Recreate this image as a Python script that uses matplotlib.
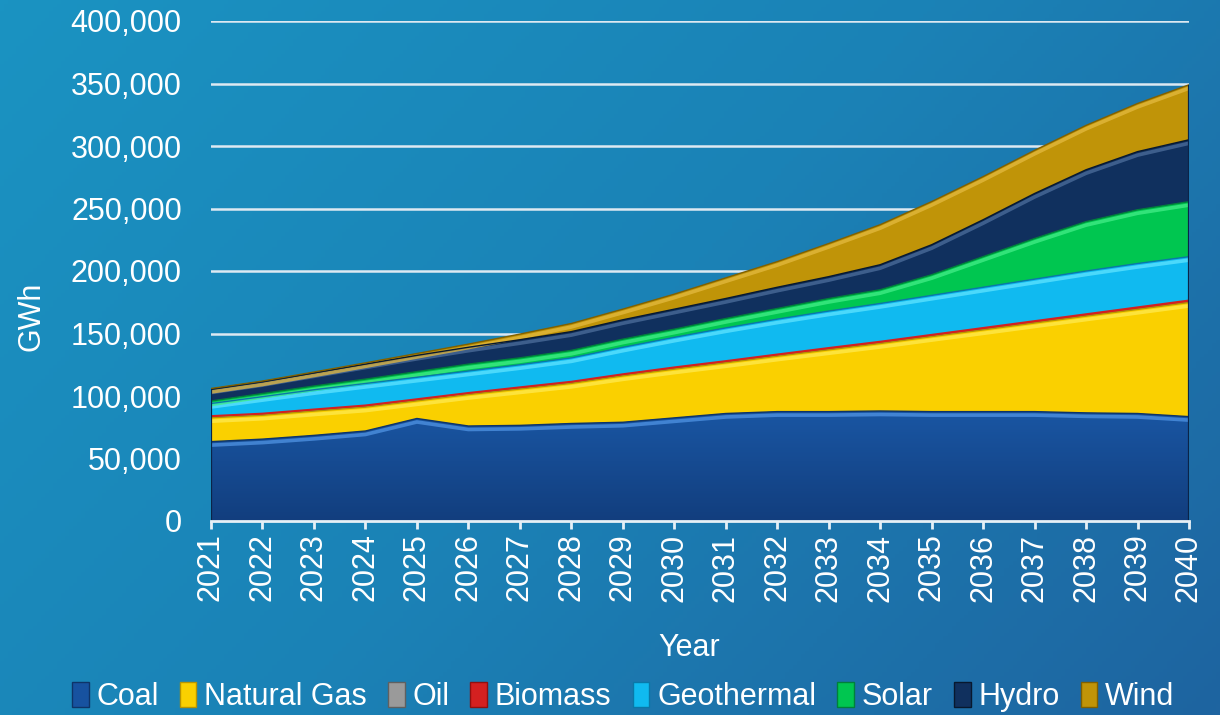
import numpy as np
import matplotlib
matplotlib.use('Agg')
import matplotlib.pyplot as plt
from matplotlib.patches import Patch
from matplotlib.colors import LinearSegmentedColormap
import matplotlib.transforms as mtransforms
from matplotlib.ticker import FuncFormatter, MultipleLocator

plt.rcParams['font.family'] = ['Liberation Sans', 'DejaVu Sans']

years = list(range(2021, 2041))
coal = [63500, 65500, 68500, 72000, 82000, 76000, 76500, 78000, 79000, 82500,
        86000, 87500, 87500, 88000, 87500, 87500, 87500, 86500, 86000, 83500]
natural_gas = [19100, 19100, 19450, 19100, 14100, 25150, 29100, 32100, 37100, 39000,
               40550, 44350, 49450, 54000, 60000, 65400, 70900, 77400, 83300, 91300]
oil = [400, 380, 350, 320, 300, 250, 220, 200, 180, 160,
       150, 140, 130, 120, 110, 100, 100, 90, 90, 80]
biomass = [1000, 1000, 1000, 1100, 1100, 1100, 1200, 1200, 1200, 1300,
           1300, 1300, 1400, 1400, 1400, 1500, 1500, 1500, 1600, 1600]
geothermal = [10000, 13500, 15700, 17500, 17500, 17500, 18000, 19000, 21500, 24000,
              26500, 28200, 29500, 30500, 31500, 32500, 33500, 34500, 35000, 35000]
solar = [2000, 2500, 3000, 3500, 4500, 5500, 5500, 6000, 6500, 6500,
         7500, 8500, 10000, 11000, 16500, 24500, 32500, 39500, 43000, 44000]
hydro = [9500, 9500, 10500, 12000, 13000, 13500, 14500, 15000, 15500, 16000,
         16000, 17000, 17500, 20000, 24000, 29500, 36000, 41500, 46500, 49500]
wind = [500, 500, 700, 1000, 1500, 2500, 4500, 6500, 8500, 12000,
        16500, 20500, 26500, 32000, 34500, 34500, 34500, 35500, 38500, 44000]

labels = ['Coal', 'Natural Gas', 'Oil', 'Biomass', 'Geothermal', 'Solar', 'Hydro', 'Wind']
series = [coal, natural_gas, oil, biomass, geothermal, solar, hydro, wind]
colors = ['#1752a0', '#fad000', '#9a9a9a', '#d42020', '#10baf0', '#00c650', '#10305e', '#c09408']
highlights = ['#5094e4', '#ffea50', '#d0d0d0', '#ff5050', '#60e4ff', '#44ee88', '#4d6e9c', '#e4ba40']
edges = ['#0e3468', '#b89400', '#606060', '#901010', '#0a78a8', '#00803a', '#08182e', '#806000']

W, H = 1220, 715
fig = plt.figure(figsize=(W / 100, H / 100), dpi=100)

# background gradient
bg = fig.add_axes([0, 0, 1, 1], zorder=-5)
gx, gy = np.meshgrid(np.linspace(0, 1, 300), np.linspace(0, 1, 200))
t = np.clip(0.65 * gx + 0.35 * gy, 0, 1)
bg_cmap = LinearSegmentedColormap.from_list('bg', ['#1a93c2', '#1b82b6', '#1e64a0'])
bg.imshow(t, cmap=bg_cmap, aspect='auto', extent=[0, 1, 0, 1], origin='upper')
bg.set_axis_off()

ax = fig.add_axes([211 / W, 1 - 521 / H, (1189 - 211) / W, 500 / H])
ax.set_facecolor('none')

ax.set_xlim(2021, 2040)
ax.set_ylim(0, 400000)
ax.yaxis.set_major_locator(MultipleLocator(50000))
ax.yaxis.set_major_formatter(FuncFormatter(lambda v, p: f'{v:,.0f}'))
ax.grid(axis='y', color='#dde9f2', lw=1.8, zorder=0)
ax.set_axisbelow(True)

polys = ax.stackplot(years, *series, colors=colors, labels=labels, zorder=2, lw=0)

# gradient on coal layer
grad = np.linspace(1, 0, 256).reshape(-1, 1)
coal_cmap = LinearSegmentedColormap.from_list('coal', ['#123e7e', '#1a58a6'])
im = ax.imshow(grad, cmap=coal_cmap, aspect='auto', extent=[2021, 2040, 0, 95000],
               origin='upper', zorder=2.1)
im.set_clip_path(polys[0].get_paths()[0], ax.transData)
ax.set_ylim(0, 400000)
ax.set_xlim(2021, 2040)

cum = np.cumsum(np.array(series, dtype=float), axis=0)
down = mtransforms.offset_copy(ax.transData, fig=fig, x=0, y=-3.5, units='dots')
for i in range(len(series)):
    if i in (2, 3):
        continue
    ax.plot(years, cum[i], color=highlights[i], lw=2.6, alpha=0.75, transform=down,
            zorder=3, solid_capstyle='butt')
    ax.plot(years, cum[i], color=edges[i], lw=1.0, zorder=3.2)
# biomass thin red edge
ax.plot(years, cum[3], color='#d42020', lw=1.3, zorder=3.3)
# dark side edges of the stack
ax.vlines([years[0], years[-1]], 0, [cum[-1][0], cum[-1][-1]], colors='#0a2448',
          lw=1.6, zorder=3.4)

for s in ['top', 'right', 'left']:
    ax.spines[s].set_visible(False)
ax.spines['bottom'].set_color('#e6f0f6')
ax.spines['bottom'].set_linewidth(2)
ax.spines['bottom'].set_zorder(4)

ax.set_xticks(years)
ax.set_xticklabels([str(y) for y in years], rotation=90)
ax.tick_params(axis='x', colors='#ffffff', length=6, width=2, pad=3, labelsize=22,
               direction='out')
ax.tick_params(axis='x', color='#e6f0f6')
ax.tick_params(axis='y', length=0, pad=21, labelsize=22, labelcolor='white')

ax.set_xlabel('Year', fontsize=22, color='white')
ax.xaxis.set_label_coords((689 - 211) / 978, (521 - 648) / 500)
ax.xaxis.label.set_va('center')
ax.set_ylabel('GWh', fontsize=22, color='white')
ax.yaxis.set_label_coords((32 - 211) / 978, (521 - 316) / 500)
ax.yaxis.label.set_va('center')

handles = [Patch(facecolor=colors[i], edgecolor=edges[i], lw=1) for i in range(len(labels))]
leg = fig.legend(handles, labels, loc='center', bbox_to_anchor=(623 / W, 1 - 697 / H),
                 ncol=8, frameon=False, fontsize=22, handlelength=0.55, handleheight=0.85,
                 handletextpad=0.25, columnspacing=0.69, borderaxespad=0, borderpad=0)
for txt in leg.get_texts():
    txt.set_color('white')

fig.savefig('out.png', dpi=100)
